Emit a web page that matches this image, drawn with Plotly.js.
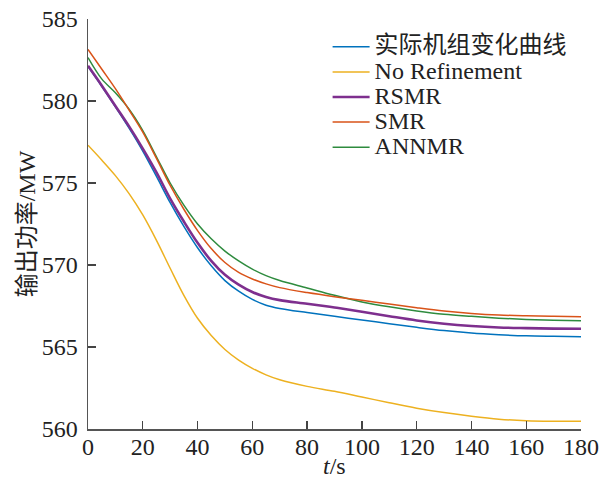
<!DOCTYPE html>
<html>
<head>
<meta charset="utf-8">
<script src="https://cdn.plot.ly/plotly-3.0.1.min.js"></script>
<style>html,body{margin:0;padding:0;background:#fff;}#chart{width:605px;height:485px;}</style>
</head>
<body>
<div id="chart"></div>
<script>
// time axis (s)
const time = [0,5,10,15,20,25,30,35,40,45,50,55,60,65,70,80,90,100,110,120,130,140,150,160,170,180];
// series (MW)
const actualUnit = [582.1,580.9,579.65,578.35,576.95,575.4,573.8,572.35,571.05,569.95,569.05,568.4,567.9,567.55,567.35,567.1,566.87,566.65,566.42,566.2,566.0,565.85,565.75,565.68,565.65,565.63];
const noRefinement = [577.3,576.4,575.45,574.35,573.05,571.5,569.8,568.15,566.75,565.7,564.85,564.2,563.7,563.3,563.0,562.6,562.3,561.95,561.6,561.27,561.0,560.78,560.6,560.5,560.47,560.47];
const rsmr = [582.15,580.95,579.7,578.45,577.1,575.65,574.05,572.65,571.35,570.25,569.4,568.8,568.35,568.05,567.86,567.64,567.41,567.15,566.88,566.62,566.42,566.28,566.19,566.15,566.12,566.11];
const smr = [583.15,581.95,580.75,579.45,578.1,576.5,574.85,573.4,572.1,571.0,570.15,569.55,569.15,568.85,568.62,568.32,568.07,567.85,567.62,567.4,567.2,567.05,566.95,566.9,566.87,566.85];
const annmr = [582.65,581.35,580.5,579.5,578.2,576.6,575.0,573.65,572.5,571.6,570.85,570.25,569.75,569.35,569.05,568.6,568.15,567.75,567.45,567.2,567.0,566.87,566.76,566.68,566.63,566.6];
const names = ['实际机组变化曲线','No Refinement','RSMR','SMR','ANNMR'];
const yTicks = [560,565,570,575,580,585];
const xTicks = [0,20,40,60,80,100,120,140,160,180];
const xTitle = '<i>t</i>/s';
const yTitle = '输出功率/MW';

const colors = ['#0072BD','#EDB120','#7E2F8E','#D95319','#2E8B3E'];
const widths = [1.5,1.5,2.6,1.5,1.5];
const series = [actualUnit,noRefinement,rsmr,smr,annmr];
const drawOrder = [1,0,2,4,3];

const traces = series.map((ys,i)=>({
  x: time, y: ys, type:'scatter', mode:'lines',
  name: '<span style="font-size:24px">'+names[i]+'</span>',
  line:{color:colors[i], width:widths[i], shape:'spline', smoothing:1.0},
  legendrank: i+1
}));
const ordered = drawOrder.map(i=>traces[i]);

const font = 'Liberation Serif, Times New Roman, Noto Sans CJK SC, serif';
const layout = {
  width:605, height:485,
  margin:{l:88, r:24, t:19, b:56},
  paper_bgcolor:'#fff', plot_bgcolor:'#fff',
  font:{family:font, size:24, color:'#222'},
  showlegend:true,
  legend:{x:0.486, y:0.975, xanchor:'left', yanchor:'top', bgcolor:'rgba(0,0,0,0)',
          font:{family:font, size:17, color:'#222'}, itemwidth:37, traceorder:'normal'},
  xaxis:{range:[0,180], tickvals:xTicks, ticktext:xTicks.map(String), ticks:'inside', ticklen:8, tickwidth:1.3,
         tickcolor:'#444', showline:true, linecolor:'#555', linewidth:1.5, showgrid:false, zeroline:false,
         mirror:false, tickfont:{family:font,size:24,color:'#222'}, ticklabelstandoff:-4},
  yaxis:{range:[560,585], tickvals:yTicks, ticktext:yTicks.map(String), ticks:'inside', ticklen:8, tickwidth:1.3,
         tickcolor:'#444', showline:true, linecolor:'#555', linewidth:1.5, showgrid:false, zeroline:false,
         mirror:false, tickfont:{family:font,size:24,color:'#222'}, ticklabelstandoff:4},
  annotations:[
    {text:xTitle, xref:'paper', yref:'paper', x:0.5, y:-0.09, xanchor:'center', yanchor:'middle',
     showarrow:false, font:{family:font,size:24,color:'#222'}},
    {text:yTitle, xref:'paper', yref:'paper', x:-0.123, y:0.5, xanchor:'center', yanchor:'middle',
     textangle:-90, showarrow:false, font:{family:font,size:24,color:'#222'}}
  ]
};
Plotly.newPlot('chart', ordered, layout, {displayModeBar:false, staticPlot:true});
</script>
</body>
</html>
